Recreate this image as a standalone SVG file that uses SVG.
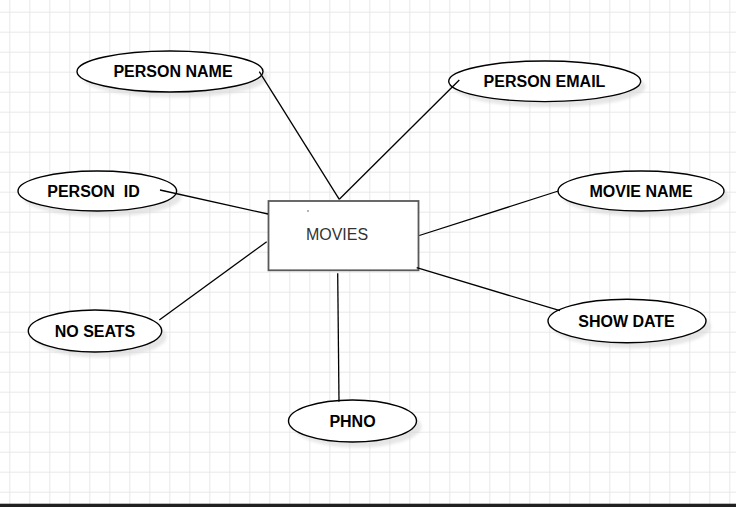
<svg xmlns="http://www.w3.org/2000/svg" width="736" height="507" viewBox="0 0 736 507">
  <defs>
    <pattern id="grid" x="9.3" y="11.7" width="20" height="20" patternUnits="userSpaceOnUse">
      <path d="M0 0.5H20M0.5 0V20" fill="none" stroke="#e8e8e8" stroke-width="1"/>
    </pattern>
    <filter id="soft" x="-20%" y="-40%" width="140%" height="180%">
      <feGaussianBlur stdDeviation="1.5"/>
    </filter>
  </defs>
  <style>
    .attr { fill: #ffffff; stroke: #000000; stroke-width: 1.4; }
    .shadow { fill: #d6d6d6; opacity: 0.6; filter: url(#soft); }
    .label { font-family: "Liberation Sans", Arial, sans-serif; font-size: 16px; font-weight: bold; fill: #000000; text-anchor: middle; }
    .entity { fill: #ffffff; stroke: #595959; stroke-width: 1.8; }
    .entity-label { font-family: "Liberation Sans", Arial, sans-serif; font-size: 16px; fill: #333333; text-anchor: middle; }
    .link { stroke: #000000; stroke-width: 1.3; fill: none; }
  </style>

  <!-- canvas -->
  <rect x="0" y="0" width="736" height="507" fill="#ffffff"/>
  <rect x="0" y="0" width="736" height="504" fill="url(#grid)"/>
  <rect x="0" y="503.7" width="736" height="3.3" fill="#212121"/>

  <!-- entity -->
  <g id="movies">
    <rect class="entity" x="268.5" y="201" width="150" height="69.3"/>
    <circle cx="308" cy="211" r="0.7" fill="#333333"/>
    <text class="entity-label" x="337" y="240">MOVIES</text>
  </g>

  <!-- attributes -->
  <g id="person-name">
    <ellipse class="shadow" cx="175" cy="77" rx="93" ry="20.5"/>
    <ellipse class="attr" cx="170" cy="71.5" rx="93" ry="20.5"/>
    <text class="label" x="173" y="76.7">PERSON NAME</text>
  </g>

  <g id="person-email">
    <ellipse class="shadow" cx="549.7" cy="86.8" rx="96" ry="20.3"/>
    <ellipse class="attr" cx="544.7" cy="81.3" rx="96" ry="20.3"/>
    <text class="label" x="544.5" y="86.8">PERSON EMAIL</text>
  </g>

  <g id="person-id">
    <ellipse class="shadow" cx="102.3" cy="196.5" rx="79.3" ry="20"/>
    <ellipse class="attr" cx="97.3" cy="191" rx="79.3" ry="20"/>
    <text class="label" x="93.5" y="196.5" xml:space="preserve">PERSON  ID</text>
  </g>

  <g id="movie-name">
    <ellipse class="shadow" cx="646" cy="196.5" rx="83" ry="20"/>
    <ellipse class="attr" cx="641" cy="191" rx="83" ry="20"/>
    <text class="label" x="641" y="196.5">MOVIE NAME</text>
  </g>

  <g id="no-seats">
    <ellipse class="shadow" cx="100" cy="336.5" rx="66.7" ry="21"/>
    <ellipse class="attr" cx="95" cy="331" rx="66.7" ry="21"/>
    <text class="label" x="95" y="336.5">NO SEATS</text>
  </g>

  <g id="show-date">
    <ellipse class="shadow" cx="632" cy="326.5" rx="79" ry="21.7"/>
    <ellipse class="attr" cx="627" cy="321" rx="79" ry="21.7"/>
    <text class="label" x="626.5" y="326.5">SHOW DATE</text>
  </g>

  <g id="phno">
    <ellipse class="shadow" cx="357.5" cy="426.5" rx="64" ry="21"/>
    <ellipse class="attr" cx="352.5" cy="421" rx="64" ry="21"/>
    <text class="label" x="352.5" y="426.5">PHNO</text>
  </g>

  <!-- connectors, drawn over the shapes so their ends show inside the ellipses -->
  <g id="connectors">
    <line class="link" x1="259.3" y1="71.7" x2="339.3" y2="199.3"/>
    <line class="link" x1="339.3" y1="199.3" x2="459.3" y2="80"/>
    <line class="link" x1="160" y1="190" x2="268" y2="214"/>
    <line class="link" x1="159.3" y1="320" x2="266.7" y2="241.7"/>
    <line class="link" x1="337.7" y1="273.3" x2="339" y2="401.7"/>
    <line class="link" x1="416.7" y1="267.7" x2="560" y2="310.7"/>
    <line class="link" x1="419.3" y1="235.5" x2="558.3" y2="191"/>
  </g>
</svg>
